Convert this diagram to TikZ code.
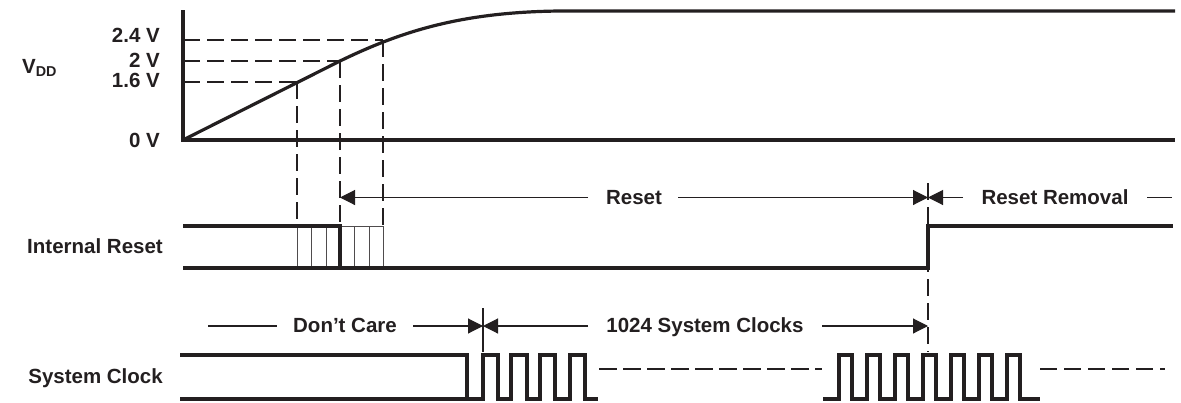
\documentclass[tikz,border=0pt]{standalone}
\usepackage{fontspec}
\setmainfont{Liberation Sans}
\usetikzlibrary{arrows.meta}
\definecolor{ink}{HTML}{231F20}
\begin{document}
\begin{tikzpicture}[x=1pt,y=-1pt,
  lbl/.style={font=\fontsize{20.5}{24}\selectfont\bfseries, text=ink, inner sep=0pt},
  sig/.style={draw=ink, line width=3.2pt, line join=miter, line cap=butt},
  thinline/.style={draw=ink, line width=1.1pt},
  hatch/.style={draw=ink!80, line width=1pt},
  dsh/.style={draw=ink, line width=1.1pt, dash pattern=on 17pt off 7pt},
  arr/.style={draw=ink, line width=1.1pt, -{Triangle[length=15pt,width=15pt]}},
]
\useasboundingbox (0,0) rectangle (1181,402);

% ---------- labels ----------
\node[lbl, anchor=base west] (vdd) at (22,73) {V\textsubscript{DD}};
\node[lbl, anchor=base east] (v24) at (160,42) {2.4 V};
\node[lbl, anchor=base east] (v20) at (160,67) {2 V};
\node[lbl, anchor=base east] (v16) at (160,87.5) {1.6 V};
\node[lbl, anchor=base east] (v00) at (160,147) {0 V};
\node[lbl, anchor=base east] (irl) at (163,253) {Internal Reset};
\node[lbl, anchor=base east] (scl) at (163,383) {System Clock};
\node[lbl, anchor=base] (rst) at (634,204) {Reset};
\node[lbl, anchor=base] (rrm) at (1055,204) {Reset Removal};
\node[lbl, anchor=base] (dc) at (345,332) {Don’t Care};
\node[lbl, anchor=base] (sc) at (705,332) {1024 System Clocks};

% ---------- coordinates ----------
\coordinate (o) at (183,140);
\coordinate (top) at (183,10);
\coordinate (xend) at (1175,140);
\coordinate (p16) at (297,82);
\coordinate (p20) at (340,61);
\coordinate (p24) at (383,40);
\coordinate (a16) at (183,82);
\coordinate (a20) at (183,61);
\coordinate (a24) at (183,40);
\coordinate (b16) at (297,226);
\coordinate (b20) at (340,226);
\coordinate (b24) at (383,226);

% ---------- dashed guides ----------
\draw[dsh] (a24) -- (p24);
\draw[dsh] (a20) -- (p20);
\draw[dsh] (a16) -- (p16);
\draw[dsh] (p16) -- (b16);
\draw[dsh] (p20) -- (b20);
\draw[dsh] (p24) -- (b24);
\coordinate (g1) at (928,183);
\coordinate (g2) at (928,352);
\draw[dsh] (g1) -- (g2);

% ---------- VDD ----------
\draw[sig] (top) -- (o) -- (xend);
\draw[sig, line join=round] (o) -- (p20) .. controls (400,32) and (460,12) .. (560,11) -- (1175,11);

% ---------- Internal reset ----------
\foreach \x in {297,311.5,326,354.5,369,383} \draw[hatch] (\x,226) -- (\x,268);
\draw[hatch] (340,226) -- (383,226);
\draw[sig] (183,226) -- (340,226) -- (340,268);
\draw[sig] (183,268) -- (928,268) -- (928,226) -- (1173,226);

% ---------- Reset arrows ----------
\coordinate (rL) at (340,197.5);
\coordinate (rA) at (588,197.5);
\coordinate (rB) at (678,197.5);
\coordinate (rR) at (928,197.5);
\coordinate (rrA) at (963,197.5);
\coordinate (rrB) at (1147,197.5);
\coordinate (rrC) at (1172,197.5);
\draw[arr] (rA) -- (rL);
\draw[arr] (rB) -- (rR);
\draw[arr] (rrA) -- (rR);
\draw[thinline] (rrB) -- (rrC);

% ---------- Clock arrows ----------
\coordinate (dcA) at (208,326);
\coordinate (dcB) at (277,326);
\coordinate (dcC) at (413,326);
\coordinate (t483) at (483,326);
\coordinate (cA) at (588,326);
\coordinate (cB) at (822,326);
\coordinate (c928) at (928,326);
\coordinate (k1) at (483,308);
\coordinate (k2) at (483,352);
\draw[thinline] (dcA) -- (dcB);
\draw[arr] (dcC) -- (t483);
\draw[arr] (cA) -- (t483);
\draw[arr] (cB) -- (c928);
\draw[thinline] (k1) -- (k2);

% ---------- System clock ----------
\draw[sig] (180,355) -- (467,355) -- (467,399);
\draw[sig] (180,399) -- (483,399)
  -- (483,355) -- (498,355) -- (498,399) -- (511,399)
  -- (511,355) -- (527,355) -- (527,399) -- (540,399)
  -- (540,355) -- (555,355) -- (555,399) -- (570,399)
  -- (570,355) -- (585,355) -- (585,399) -- (598,399);
\draw[dsh, dash pattern=on 18pt off 6pt] (599,369) -- (822,369);
\draw[sig] (823,399)
  \foreach \x in {839,867,895,923,951,979,1007} { -- (\x,399) -- (\x,355) -- (\x+13,355) -- (\x+13,399) }
  -- (1040,399);
\draw[dsh] (1040,369) -- (1165,369);
\end{tikzpicture}
\end{document}
